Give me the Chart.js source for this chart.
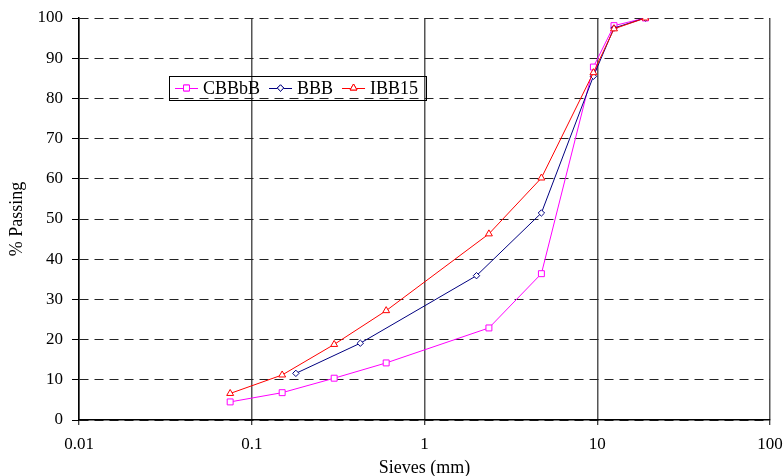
<!DOCTYPE html>
<html>
<head>
<meta charset="utf-8">
<script src="https://cdn.jsdelivr.net/npm/chart.js@4"></script>
<style>
  html, body { margin: 0; padding: 0; background: #fff; }
  #wrap { width: 784px; height: 476px; position: relative; }
</style>
</head>
<body>
<div id="wrap"><canvas id="grading"></canvas></div>
<script>
  "use strict";

  // sieve sizes (mm) and % passing
  const sievesCBBbB = [0.075, 0.15, 0.3, 0.6, 2.36, 4.75, 9.5, 12.5, 19];
  const passCBBbB = [4.5, 6.8, 10.4, 14.2, 22.9, 36.4, 87.8, 98.1, 100];

  const sievesBBB = [0.18, 0.425, 2.0, 4.75, 9.5, 12.5, 19];
  const passBBB = [11.6, 19.1, 35.9, 51.5, 85.5, 97.5, 100];

  const sievesIBB15 = [0.075, 0.15, 0.3, 0.6, 2.36, 4.75, 9.5, 12.5, 19];
  const passIBB15 = [6.6, 11.2, 18.8, 27.2, 46.3, 60.2, 86.4, 97.3, 100];

  const xTicks = [0.01, 0.1, 1, 10, 100];
  const yTicks = [0, 10, 20, 30, 40, 50, 60, 70, 80, 90, 100];

  const serif = "'Liberation Serif', 'Times New Roman', serif";

  function pts(xs, ys) {
    return xs.map((x, i) => ({ x: x, y: ys[i] }));
  }

  function series(label, xs, ys, color, style, radius, order) {
    return {
      label, data: pts(xs, ys), order,
      showLine: true, borderColor: color, borderWidth: 1,
      pointStyle: style, pointRadius: radius, pointBorderColor: color,
      pointBackgroundColor: "#fff", pointBorderWidth: 1
    };
  }

  const datasets = [
    series("CBBbB", sievesCBBbB, passCBBbB, "#ff00ff", "rect", 4.2, 3),
    series("BBB", sievesBBB, passBBB, "#000080", "rectRot", 3.2, 2),
    series("IBB15", sievesIBB15, passIBB15, "#ff0000", "triangle", 4, 1)
  ];

  // boxed legend sitting inside the plot, like the spreadsheet one
  const boxLegend = {
    id: "boxLegend",
    afterDraw(chart) {
      const ctx = chart.ctx;
      const left = 169, top = 76, h = 24, cy = top + h / 2;
      ctx.save();
      ctx.font = "18px " + serif;
      ctx.textBaseline = "middle";
      let x = left + 6;
      datasets.forEach((ds) => {
        ctx.strokeStyle = ds.borderColor;
        ctx.lineWidth = 1;
        ctx.setLineDash([]);
        ctx.beginPath();
        ctx.moveTo(x, cy + 0.5);
        ctx.lineTo(x + 23, cy + 0.5);
        ctx.stroke();
        ctx.fillStyle = "#fff";
        Chart.helpers.drawPoint(ctx, { pointStyle: ds.pointStyle, radius: ds.pointRadius, borderWidth: 1 }, x + 11.5, cy);
        ctx.fill();
        ctx.stroke();
        ctx.fillStyle = "#000";
        ctx.fillText(ds.label, x + 28, cy + 1);
        x += 28 + ctx.measureText(ds.label).width + 9;
      });
      ctx.strokeStyle = "#000";
      ctx.lineWidth = 1;
      ctx.strokeRect(left + 0.5, top + 0.5, 257, h);
      ctx.restore();
    }
  };

  new Chart(document.getElementById("grading"), {
    type: "scatter",
    data: { datasets },
    options: {
      responsive: true,
      maintainAspectRatio: false,
      animation: false,
      layout: { padding: { top: 18, right: 14, left: 0, bottom: 0 } },
      plugins: { legend: { display: false }, tooltip: { enabled: false } },
      scales: {
        x: {
          type: "logarithmic", min: 0.01, max: 100,
          afterBuildTicks: (s) => { s.ticks = xTicks.map((v) => ({ value: v })); },
          afterFit: (s) => { s.height = 56; s.paddingLeft = 0; s.paddingRight = 0; },
          ticks: {
            color: "#000", padding: 9, maxRotation: 0, autoSkip: false,
            font: { family: serif, size: 17 },
            callback: (v) => String(v)
          },
          grid: { color: "#555", lineWidth: 1.5, tickLength: 5, tickColor: "#000", tickWidth: 1 },
          border: { color: "#000", width: 1.5 },
          title: { display: true, text: "Sieves (mm)", color: "#000",
            font: { family: serif, size: 18 }, padding: { top: 0, bottom: -3 } }
        },
        y: {
          min: 0, max: 100,
          afterBuildTicks: (s) => { s.ticks = yTicks.map((v) => ({ value: v })); },
          afterFit: (s) => { s.width = 79; s.paddingTop = 0; s.paddingBottom = 0; },
          ticks: { color: "#000", padding: 9, font: { family: serif, size: 17 } },
          grid: { color: "#222", lineWidth: 1, tickLength: 7,
            tickColor: "#000", tickBorderDash: [], tickWidth: 1 },
          border: { color: "#000", width: 1.5, dash: [9, 6] },
          title: { display: true, text: "% Passing", color: "#000",
            font: { family: serif, size: 18 }, padding: { top: 6, bottom: 0 } }
        }
      }
    },
    plugins: [boxLegend]
  });
</script>
</body>
</html>
